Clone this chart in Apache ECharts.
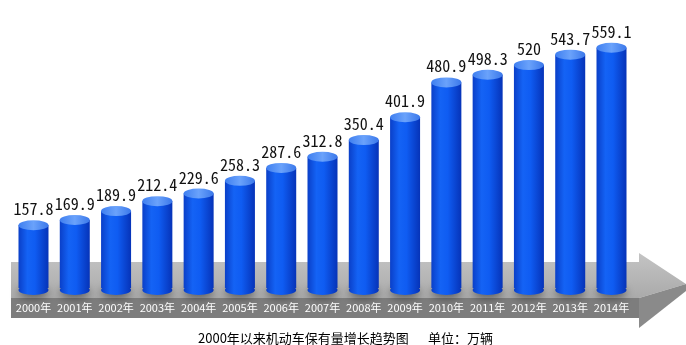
<!DOCTYPE html>
<html>
<head>
<meta charset="utf-8">
<script src="https://cdn.jsdelivr.net/npm/echarts@6/dist/echarts.min.js"></script>
<style>
html,body{margin:0;padding:0;background:#fff;}
#chart{width:686px;height:345px;}
</style>
</head>
<body>
<div id="chart"></div>
<script>
var years = ['2000年','2001年','2002年','2003年','2004年','2005年','2006年','2007年','2008年','2009年','2010年','2011年','2012年','2013年','2014年'];
var values = [157.8, 169.9, 189.9, 212.4, 229.6, 258.3, 287.6, 312.8, 350.4, 401.9, 480.9, 498.3, 520, 543.7, 559.1];
var caption = '2000年以来机动车保有量增长趋势图';
var unitText = '单位：万辆';

var chart = echarts.init(document.getElementById('chart'));
function bodyGrad(){ return new echarts.graphic.LinearGradient(0,0,1,0,[
  {offset:0,color:'#0a3fc8'},
  {offset:0.3,color:'#1463f5'},
  {offset:0.55,color:'#0f5cf2'},
  {offset:1,color:'#0633b8'}
]);}
var topGrad = new echarts.graphic.LinearGradient(0,0,1,0,[
  {offset:0,color:'#3f7ff0'},
  {offset:0.5,color:'#6aa2fb'},
  {offset:1,color:'#3b78ea'}
]);

chart.setOption({
  animation:false,
  backgroundColor:'#ffffff',
  title:[
    {text:caption,left:193,top:327,textStyle:{fontSize:13,fontWeight:'normal',color:'#000',fontFamily:'"Noto Sans CJK SC", sans-serif'}},
    {text:unitText,left:423,top:327,textStyle:{fontSize:13,fontWeight:'normal',color:'#000',fontFamily:'"Noto Sans CJK SC", sans-serif'}}
  ],
  graphic:[
    {type:'polygon',z:-10,silent:true,shape:{points:[[11,262],[639,262],[639,253],[686,284],[639,298],[11,298]]},
      style:{fill:new echarts.graphic.LinearGradient(0,0,0,1,[{offset:0,color:'#c4c4c4'},{offset:1,color:'#aaaaaa'}])}},
    {type:'rect',z:-10,silent:true,shape:{x:11,y:298,width:628,height:20},style:{fill:'#7d7d7d'}},
    {type:'polygon',z:-10,silent:true,shape:{points:[[639,298],[686,284],[686,291],[639,328]]},style:{fill:'#8a8a8a'}}
  ],
  grid:{left:12.85,right:53.85,top:20,bottom:57,containLabel:false},
  xAxis:{
    type:'category',data:years,
    axisLine:{show:false},axisTick:{show:false},
    axisLabel:{interval:0,hideOverlap:false,color:'#ffffff',fontSize:11,margin:14,fontFamily:'"Noto Sans CJK SC", sans-serif'}
  },
  yAxis:{type:'value',min:16,max:622,show:false,splitLine:{show:false}},
  series:[
    {
      type:'pictorialBar',data:values,symbol:'circle',symbolSize:[30,10],
      symbolPosition:'start',symbolOffset:[0,0],z:1,
      itemStyle:{color:bodyGrad(),shadowColor:'rgba(0,0,0,0.5)',shadowBlur:8,shadowOffsetY:3}
    },
    {
      type:'bar',data:values,barWidth:30,z:2,barGap:'-100%',
      itemStyle:{color:bodyGrad()},
      label:{show:true,position:'top',distance:8,color:'#111',fontSize:16,
        fontFamily:'"Noto Sans Mono CJK SC","Liberation Mono",monospace'}
    },
    {
      type:'pictorialBar',data:values,symbol:'circle',symbolSize:[30,10],
      symbolPosition:'end',symbolOffset:[0,'-50%'],z:3,
      itemStyle:{color:topGrad}
    }
  ]
});
</script>
</body>
</html>
